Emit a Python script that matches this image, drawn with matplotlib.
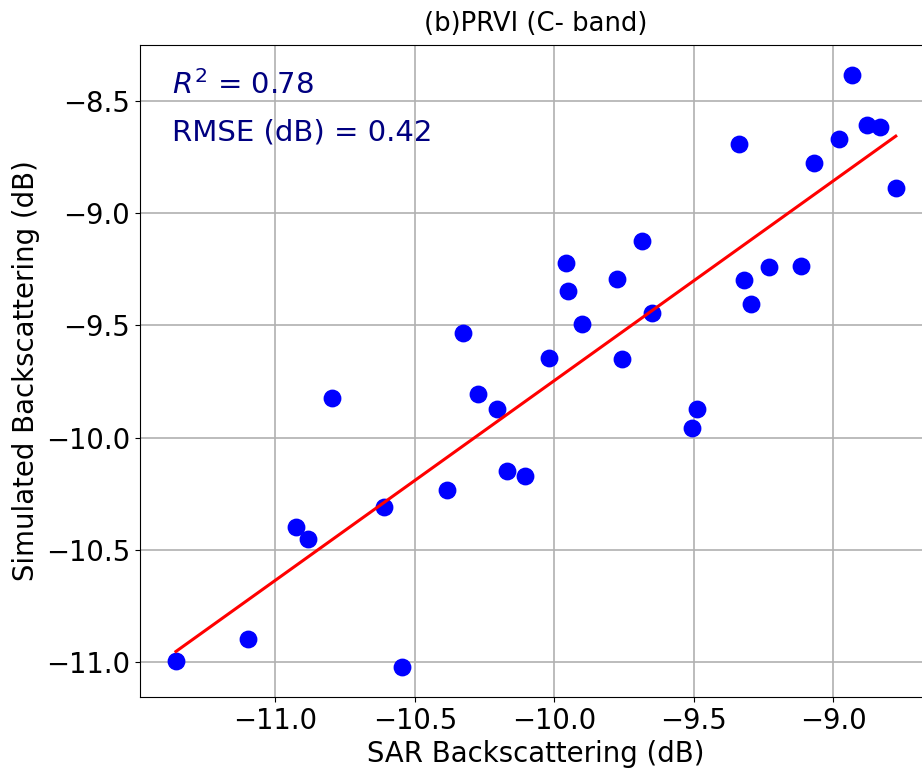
import numpy as np
import matplotlib
matplotlib.use('Agg')
from matplotlib import pyplot as plt

# SAR vs simulated backscattering, PRVI, C-band
sar = [-8.932, -8.879, -8.833, -8.979, -9.339, -9.070, -8.776, -9.686,
       -9.959, -9.774, -9.116, -9.232, -9.319, -9.952, -9.296, -9.901,
       -9.651, -10.018, -9.757, -9.490, -9.506, -10.797, -10.272, -10.204,
       -10.170, -10.105, -10.384, -10.609, -10.926, -10.883, -11.097,
       -11.356, -10.547, -10.328]
sim = [-8.381, -8.604, -8.614, -8.669, -8.689, -8.776, -8.886, -9.124,
       -9.220, -9.293, -9.234, -9.241, -9.298, -9.344, -9.402, -9.495,
       -9.443, -9.644, -9.651, -9.874, -9.956, -9.825, -9.807, -9.874,
       -10.147, -10.170, -10.236, -10.308, -10.401, -10.452, -10.899,
       -10.996, -11.025, -9.535]

# fitted line as shown on the figure (slope, intercept)
fit_slope = 0.891
fit_icpt = -0.836

r2_txt = '$R^2$ = 0.78'
rmse_txt = 'RMSE (dB) = 0.42'

x = np.array(sar)
y = np.array(sim)
xl = np.array([x.min(), x.max()])

fig = plt.figure(figsize=(9.22, 7.77), dpi=100)
ax = fig.add_axes([0.1518, 0.103, 0.8588, 0.8391])
ax.scatter(x, y, s=140, color='blue', zorder=3)
ax.plot(xl, fit_slope*xl + fit_icpt, color='red', lw=2.2, zorder=4)
ax.grid(True, color='#b0b0b0', lw=1.2)
ax.set_axisbelow(True)

ax.text(0.04, 0.925, r2_txt, transform=ax.transAxes, fontsize=21,
        color='navy', va='baseline')
ax.text(0.04, 0.854, rmse_txt, transform=ax.transAxes, fontsize=21,
        color='navy', va='baseline')

ax.set_title('(b)PRVI (C- band)', fontsize=18.6, pad=10)
ax.set_xlabel('SAR Backscattering (dB)', fontsize=19.8)
ax.set_ylabel('Simulated Backscattering (dB)', fontsize=19.8)
ax.tick_params(labelsize=19.8)
ax.set_xticks([-11.0, -10.5, -10.0, -9.5, -9.0])
ax.set_yticks([-11.0, -10.5, -10.0, -9.5, -9.0, -8.5])

fig.savefig('out.png', dpi=100)
